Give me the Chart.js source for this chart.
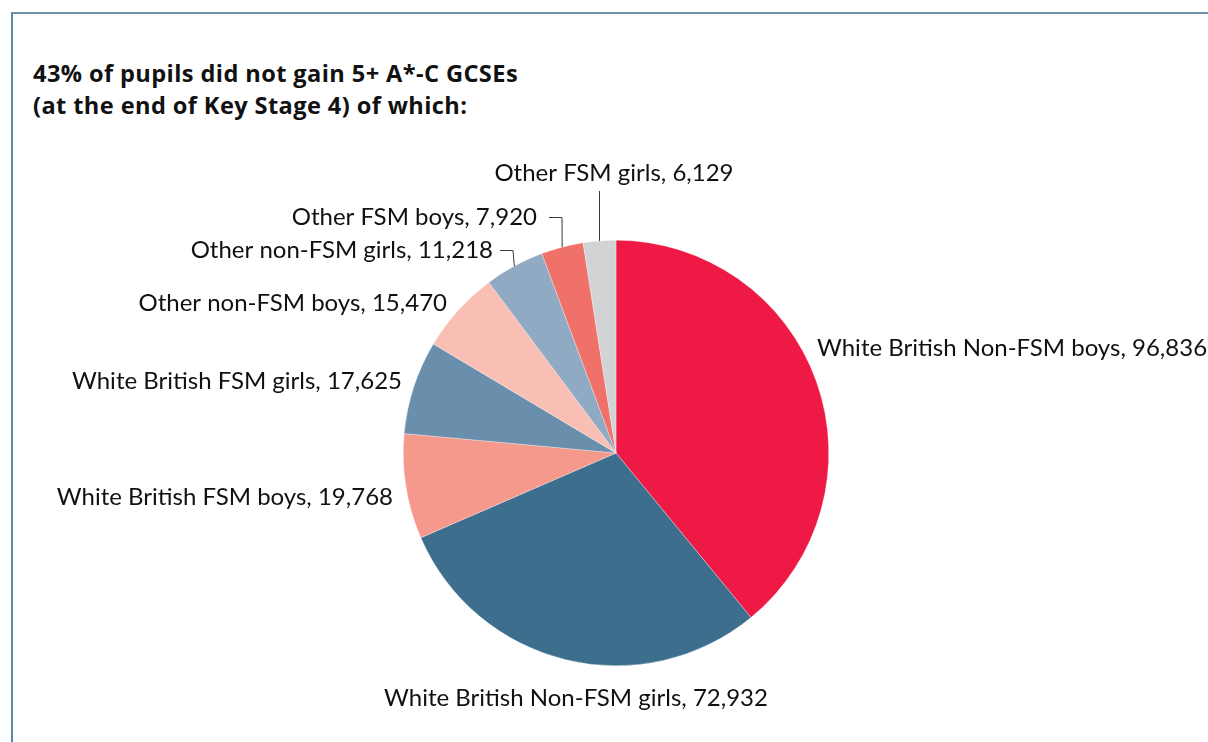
<!DOCTYPE html>
<html>
<head>
<meta charset="utf-8">
<script src="https://cdn.jsdelivr.net/npm/chart.js@4.4.1/dist/chart.umd.min.js"></script>
<style>
html,body{margin:0;padding:0;background:#fff;}
#wrap{position:relative;width:1208px;height:742px;overflow:hidden;background:#fff;}
#frame{position:absolute;left:11px;top:12px;width:1400px;height:900px;border-top:2px solid #6d93ab;border-left:2px solid #5a89ae;box-sizing:border-box;}
#title{position:absolute;left:33px;top:57px;font-family:"Open Sans",Lato,sans-serif;font-weight:bold;font-size:23.6px;line-height:32px;color:#111;white-space:nowrap;letter-spacing:0.4px;}
#c{position:absolute;left:0;top:0;}
</style>
</head>
<body>
<div id="wrap">
  <div id="frame"></div>
  <div id="title">43% of pupils did not gain 5+ A*-C GCSEs<br>(at the end of Key Stage 4) of which:</div>
  <canvas id="c" width="1208" height="742"></canvas>
</div>
<script>
// ---- data ----
const categories = [
  "White British Non-FSM boys",
  "White British Non-FSM girls",
  "White British FSM boys",
  "White British FSM girls",
  "Other non-FSM boys",
  "Other non-FSM girls",
  "Other FSM boys",
  "Other FSM girls"
];
const pupils = [96836, 72932, 19768, 17625, 15470, 11218, 7920, 6129];

// ---- style / layout (kept apart from the data) ----
const sliceColors = ["#ee1944", "#3d6e8e", "#f4998b", "#6a8fad", "#f9bfb4", "#91aac3", "#f0706a", "#d1d3d4"];
const labelLayout = [
  {x: 817, y: 356, align: "left"},
  {x: 576, y: 706, align: "center"},
  {x: 393, y: 505, align: "right"},
  {x: 402, y: 389, align: "right"},
  {x: 447, y: 311, align: "right"},
  {x: 493, y: 258, align: "right", leader: "elbow", gap: 7, elbow: 513},
  {x: 537, y: 225, align: "right", leader: "elbow", gap: 12, elbow: 562},
  {x: 614, y: 181, align: "center", leader: "vertical"}
];
const labelFont = '24px Lato, "Open Sans", sans-serif';

const sliceLabels = {
  id: "sliceLabels",
  afterDraw(chart) {
    const ctx = chart.ctx;
    const meta = chart.getDatasetMeta(0);
    ctx.save();
    ctx.font = labelFont;
    ctx.fillStyle = "#111";
    ctx.textBaseline = "alphabetic";
    meta.data.forEach((arc, i) => {
      const L = labelLayout[i];
      const text = categories[i] + ", " + pupils[i].toLocaleString("en-US");
      ctx.textAlign = L.align;
      ctx.fillText(text, L.x, L.y);
      if (!L.leader) return;
      const p = arc.getProps(["x", "y", "startAngle", "endAngle", "outerRadius"], true);
      const mid = (p.startAngle + p.endAngle) / 2;
      const ex = p.x + Math.cos(mid) * p.outerRadius;
      const ey = p.y + Math.sin(mid) * p.outerRadius;
      ctx.strokeStyle = "#3a3a3a";
      ctx.lineWidth = 1;
      ctx.beginPath();
      if (L.leader === "elbow") {
        const ly = Math.round(L.y - 8) + 0.5;
        ctx.moveTo(L.x + L.gap, ly);
        ctx.lineTo(L.elbow, ly);
        ctx.lineTo(ex, ey);
      } else {
        const vx = Math.round(ex) + 0.5;
        ctx.moveTo(vx, L.y + 10);
        ctx.lineTo(vx, ey);
      }
      ctx.stroke();
    });
    ctx.restore();
  }
};

new Chart(document.getElementById("c"), {
  type: "pie",
  data: {
    labels: categories,
    datasets: [{
      data: pupils,
      backgroundColor: sliceColors,
      borderColor: "rgba(255,255,255,0.6)",
      borderWidth: 0.5
    }]
  },
  options: {
    responsive: false,
    animation: false,
    layout: {padding: {left: 403, right: 379, top: 240, bottom: 76}},
    plugins: {
      legend: {display: false},
      tooltip: {enabled: false},
      title: {display: false}
    }
  },
  plugins: [sliceLabels]
});
</script>
</body>
</html>
